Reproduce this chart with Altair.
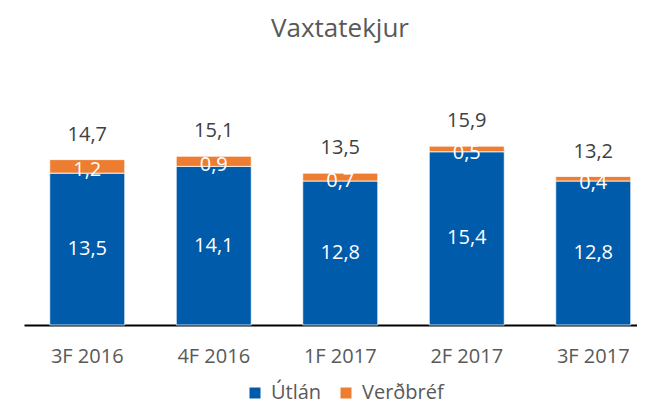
import altair as alt
import pandas as pd

categories = ["3F 2016", "4F 2016", "1F 2017", "2F 2017", "3F 2017"]
utlan = [13.5, 14.1, 12.8, 15.4, 12.8]
verdbref = [1.2, 0.9, 0.7, 0.5, 0.4]
totals = [14.7, 15.1, 13.5, 15.9, 13.2]
series = ["Útlán", "Verðbréf"]
colors = ["#005BAA", "#ED7D31"]

FONT = "Open Sans"


def fmt(x):
    return f"{x:.1f}".replace(".", ",")


rows = []
for c, u, v in zip(categories, utlan, verdbref):
    rows.append(dict(cat=c, series=series[0], start=0.0, end=u, mid=u / 2, label=fmt(u)))
    rows.append(dict(cat=c, series=series[1], start=u, end=u + v, mid=u + v / 2, label=fmt(v)))
seg = pd.DataFrame(rows)
tot = pd.DataFrame(dict(cat=categories,
                        top=[u + v for u, v in zip(utlan, verdbref)],
                        label=[fmt(t) for t in totals]))

x = alt.X("cat:N", sort=categories,
          scale=alt.Scale(range=[0, 632.5], paddingInner=0.407, paddingOuter=0.2035),
          axis=alt.Axis(title=None, labelAngle=0, ticks=False, domainColor="#000000",
                        domainWidth=2, labelFont=FONT, labelFontSize=20,
                        labelColor="#595959", labelPadding=21))
yscale = alt.Scale(domain=[0, 20])

bars = alt.Chart(seg).mark_bar(stroke="white", strokeWidth=0.75).encode(
    x=x,
    y=alt.Y("start:Q", scale=yscale, axis=None),
    y2="end:Q",
    color=alt.Color("series:N", scale=alt.Scale(domain=series, range=colors),
                    legend=alt.Legend(title=None, orient="none", legendX=221, legendY=283,
                                      direction="horizontal", symbolType="square",
                                      symbolSize=121, symbolStrokeWidth=0,
                                      labelFont=FONT, labelFontSize=20,
                                      labelColor="#595959", labelOffset=6,
                                      columnPadding=14, padding=0)),
)

seg_labels = alt.Chart(seg).transform_filter(alt.datum.series == series[0]).mark_text(
    font=FONT, fontSize=20, color="white", baseline="middle"
).encode(x=x, y=alt.Y("mid:Q", scale=yscale), text="label:N")

seg_labels2 = alt.Chart(seg).transform_filter(alt.datum.series == series[1]).mark_text(
    font=FONT, fontSize=20, color="white", baseline="middle", dy=4
).encode(x=x, y=alt.Y("mid:Q", scale=yscale), text="label:N")

tot_labels = alt.Chart(tot).mark_text(
    font=FONT, fontSize=20, color="#404040", baseline="middle", dy=-25
).encode(x=x, y=alt.Y("top:Q", scale=yscale), text="label:N")

chart = alt.layer(bars, seg_labels, seg_labels2, tot_labels).properties(
    width=613, height=225,
    autosize=alt.AutoSizeParams(type="none"),
    padding={"left": 16, "top": 92, "right": 0, "bottom": 81},
    title=alt.TitleParams("Vaxtatekjur", font=FONT, fontSize=26, fontWeight="normal",
                          color="#595959", anchor="middle", frame="group",
                          baseline="alphabetic", offset=37, dx=9.5),
).configure_view(stroke=None)

chart.save("out.html", embed_options={"renderer": "svg", "actions": False})
